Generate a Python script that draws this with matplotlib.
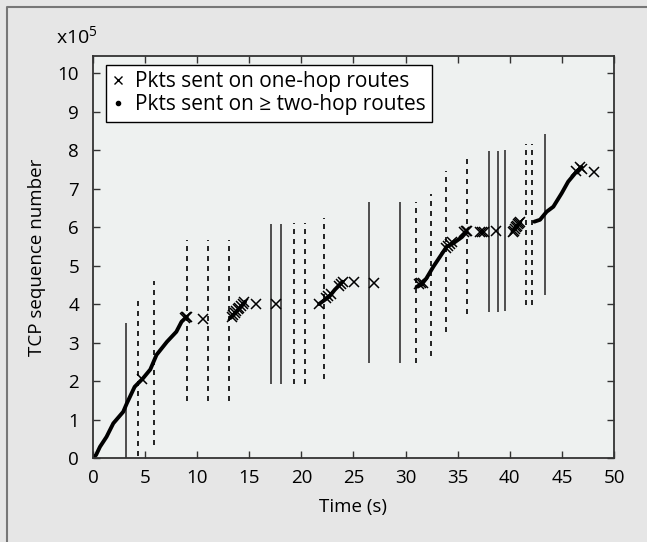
import matplotlib
matplotlib.use("Agg")
from matplotlib import pyplot as plt
from matplotlib.lines import Line2D

plt.rcParams['font.family'] = ['Open Sans', 'DejaVu Sans']
plt.rcParams['font.size'] = 13.5
plt.rcParams['mathtext.fontset'] = 'custom'
plt.rcParams['mathtext.rm'] = 'Open Sans'

# vertical route-change bars (x1e5)
solid_t  = [3.2, 17.05, 18.0, 26.5, 29.5, 38.0, 38.9, 39.5, 43.4]
solid_lo = [0.0, 1.92, 1.92, 2.48, 2.48, 3.80, 3.80, 3.82, 4.24]
solid_hi = [3.5, 6.08, 6.08, 6.65, 6.65, 7.98, 7.98, 8.00, 8.42]

dashed_t  = [4.35, 5.9, 9.0, 11.0, 13.05, 19.25, 20.35, 22.15, 31.0, 32.45, 33.9, 35.9, 41.55, 42.1]
dashed_lo = [0.05, 0.35, 1.49, 1.49, 1.49, 1.92, 1.92, 2.05, 2.48, 2.66, 3.27, 3.73, 3.98, 3.98]
dashed_hi = [4.17, 4.61, 5.67, 5.67, 5.67, 6.10, 6.10, 6.23, 6.65, 6.85, 7.45, 7.90, 8.15, 8.15]

# packets on >= two-hop routes (dense dots)
two_t1 = [0, 0.3, 0.67, 1.3, 1.95, 2.9, 3.25, 4.0, 4.8, 5.5, 6.1, 7.1, 8.0, 8.5, 9.0]
two_y1 = [0, 0.08, 0.29, 0.55, 0.9, 1.2, 1.42, 1.85, 2.07, 2.3, 2.68, 3.02, 3.28, 3.54, 3.67]
two_t2 = [13.2, 13.7, 14.2, 14.6]
two_y2 = [3.64, 3.78, 3.93, 4.06]
two_t3 = [21.7, 22.2, 22.7, 23.2, 23.6, 23.95]
two_y3 = [4.0, 4.1, 4.2, 4.37, 4.48, 4.58]
two_t4 = [31.06, 31.5, 32.0, 32.66, 33.3, 33.94, 34.58, 35.4, 35.86]
two_y4 = [4.45, 4.5, 4.67, 4.97, 5.23, 5.49, 5.58, 5.74, 5.88]
two_t5 = [40.3, 40.6, 41.0]
two_y5 = [5.9, 6.0, 6.12]
two_t6 = [42.35, 42.9, 43.54, 44.18, 44.98, 45.6, 46.4, 46.9]
two_y6 = [6.14, 6.19, 6.4, 6.53, 6.88, 7.18, 7.44, 7.56]

# packets on one-hop routes
one_t = [4.7, 8.8, 8.95, 9.05, 10.6,
         13.3, 13.45, 13.6, 13.75, 13.9, 14.05, 14.2, 14.35, 14.5,
         15.6, 17.6, 21.7, 22.4, 22.6, 22.8, 23.6, 23.8, 23.95, 25.05, 27.0,
         31.3, 31.5, 31.7, 33.9, 34.1, 34.3, 34.5, 35.6, 35.75, 35.9,
         37.1, 37.3, 37.5, 38.7,
         40.3, 40.4, 40.5, 40.6, 40.7, 40.8, 40.9, 41.0,
         46.4, 46.7, 46.9, 48.1]
one_y = [2.05, 3.64, 3.66, 3.67, 3.62,
         3.66, 3.71, 3.76, 3.81, 3.86, 3.91, 3.96, 4.01, 4.06,
         3.99, 3.99, 4.0, 4.15, 4.2, 4.25, 4.47, 4.52, 4.58, 4.58, 4.55,
         4.52, 4.54, 4.56, 5.45, 5.5, 5.55, 5.6, 5.88, 5.9, 5.9,
         5.87, 5.88, 5.88, 5.9,
         5.86, 5.9, 5.95, 6.0, 6.03, 6.07, 6.1, 6.14,
         7.45, 7.55, 7.52, 7.42]

fig = plt.figure(figsize=(6.47, 5.42), dpi=100, facecolor='#e6e6e6')
ax = fig.add_axes([0.1437, 0.155, 0.949 - 0.1437, 0.897 - 0.155])
ax.set_facecolor('#eef1f0')

ax.vlines(solid_t, solid_lo, solid_hi, colors='#333333', linewidth=1.2)
ax.vlines(dashed_t, dashed_lo, dashed_hi, colors='black', linewidth=1.2,
          linestyles=(0, (3, 3)))

for t, y in [(two_t1, two_y1), (two_t2, two_y2), (two_t3, two_y3),
             (two_t4, two_y4), (two_t5, two_y5), (two_t6, two_y6)]:
    ax.plot(t, y, color='black', lw=2.8, solid_capstyle='round')

ax.plot(one_t, one_y, ls='none', marker='x', color='black', markersize=7.5, mew=1.1)

ax.set_xlim(0, 50)
ax.set_ylim(0, 10.45)
ax.set_xticks(range(0, 51, 5))
ax.set_yticks(range(0, 11))
ax.tick_params(direction='in', top=True, right=True, length=5, width=1, color='#333333')
ax.tick_params(axis='y', pad=10)
ax.tick_params(axis='x', pad=8)
for s in ax.spines.values():
    s.set_linewidth(1.3)
    s.set_color('#333333')

ax.set_xlabel('Time (s)', labelpad=8)
ax.set_ylabel('TCP sequence number', labelpad=8)
fig.text(0.087, 0.912, r'x10$^{\mathregular{5}}$', fontsize=14, ha='left', va='bottom')

h1 = Line2D([], [], ls='none', marker='x', color='black', markersize=6, mew=1)
h2 = Line2D([], [], ls='none', marker='.', color='black', markersize=6)
leg = ax.legend([h1, h2], ['Pkts sent on one-hop routes', 'Pkts sent on \u2265 two-hop routes'],
                loc='upper left', bbox_to_anchor=(0.025, 0.977), fancybox=False,
                framealpha=1, edgecolor='black', handlelength=0.6, handletextpad=0.5,
                borderpad=0.3, labelspacing=0.1, borderaxespad=0, fontsize=15)
leg.get_frame().set_linewidth(1)

fig.add_artist(Line2D([7 / 647, 7 / 647, 1], [0, 1 - 7 / 542, 1 - 7 / 542],
                      transform=fig.transFigure, color='#777777', lw=1.5))

fig.savefig('out.png', dpi=100, facecolor=fig.get_facecolor())
